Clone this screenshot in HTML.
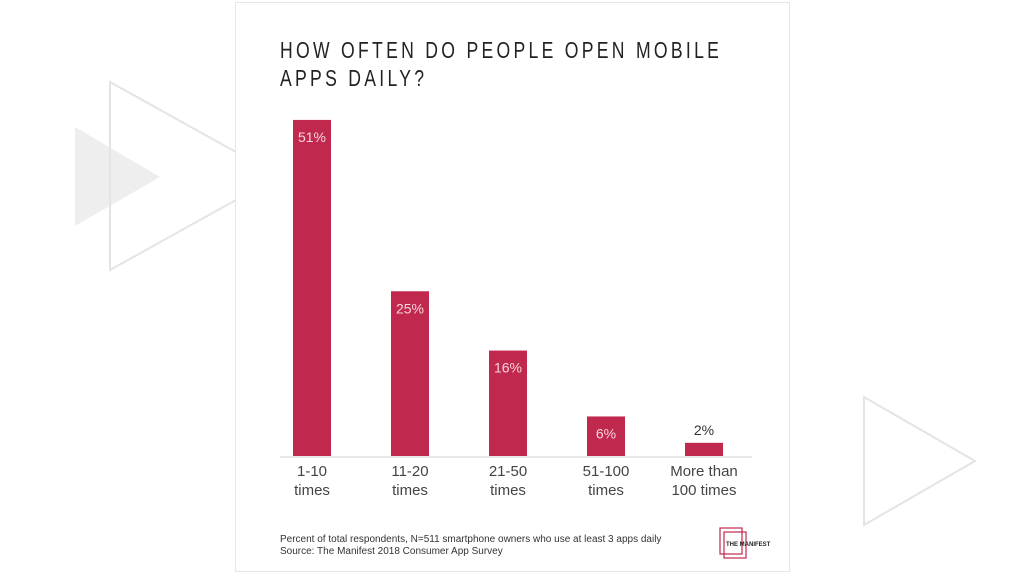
<!DOCTYPE html>
<html><head><meta charset="utf-8"><style>
body{margin:0;width:1024px;height:576px;background:#fff;overflow:hidden;position:relative;font-family:"Liberation Sans",sans-serif}
#bg{position:absolute;left:0;top:0}
#card{position:absolute;left:235px;top:2px;width:555px;height:570px;background:#fff;border:1px solid #e6e6e6;box-sizing:border-box}
.title{position:absolute;left:280px;font-size:23px;letter-spacing:4.3px;color:#222;transform:scaleX(0.765);transform-origin:left top;white-space:nowrap}
.foot{position:absolute;left:280px;font-size:10px;color:#333;white-space:nowrap}
</style></head><body>
<svg id="bg" width="1024" height="576">
<polygon points="75,127 160,177 75,226" fill="#eeeeee"/>
<polygon points="110,82 279,176 110,270" fill="none" stroke="#e4e4e4" stroke-width="2"/>
<polygon points="864,397 975,461 864,525" fill="none" stroke="#e4e4e4" stroke-width="2"/>
</svg>
<div id="card"></div>
<div class="title" style="top:37px">HOW OFTEN DO PEOPLE OPEN MOBILE</div>
<div class="title" style="top:65px">APPS DAILY?</div>
<svg id="chart" style="position:absolute;left:0;top:0" width="1024" height="576"></svg>
<div class="foot" style="top:534px">Percent of total respondents, N=511 smartphone owners who use at least 3 apps daily</div>
<div class="foot" style="top:546px">Source: The Manifest 2018 Consumer App Survey</div>
<svg style="position:absolute;left:716px;top:524px" width="64" height="36">
<rect x="4" y="4" width="22" height="26" fill="none" stroke="#c0284e" stroke-width="1.2"/>
<rect x="8" y="8" width="22" height="26" fill="none" stroke="#c0284e" stroke-width="1.2"/>
<text x="10" y="22" font-size="6" font-weight="bold" fill="#222" font-family="Liberation Sans">THE MANIFEST</text>
</svg>
<script>
const categories=[["1-10","times"],["11-20","times"],["21-50","times"],["51-100","times"],["More than","100 times"]];
const values=[51,25,16,6,2];
const valueLabels=["51%","25%","16%","6%","2%"];
const svg=document.getElementById('chart');
const NS='http://www.w3.org/2000/svg';
const baseY=456,pxPer=6.59,x0=312,step=98,bw=38;
function xs(i){return x0+i*step;}
function ys(v){return baseY-v*pxPer;}
function mk(t,a){const e=document.createElementNS(NS,t);for(const k in a)e.setAttribute(k,a[k]);svg.appendChild(e);return e;}
const ax=mk('line',{x1:280,x2:752,y1:baseY+1,y2:baseY+1,stroke:'#e0e0e0','stroke-width':1.5});


values.forEach((v,i)=>{
  const r=mk('rect',{x:xs(i)-bw/2,y:ys(v),width:bw,height:baseY-ys(v),fill:'#c0284e'});
  
  
  const inside=(baseY-ys(v))>30;
  const t=mk('text',{x:xs(i),y:inside?ys(v)+22:ys(v)-8,'text-anchor':'middle','font-size':14,fill:inside?'#f5d5dc':'#333','font-family':'Liberation Sans'});
  t.textContent=valueLabels[i];
  
  
  categories[i].forEach((s,j)=>{
    const c=mk('text',{x:xs(i),y:476+j*19,'text-anchor':'middle','font-size':15,fill:'#444','font-family':'Liberation Sans'});
    c.textContent=s;
    
    
  });
});
</script>
</body></html>
